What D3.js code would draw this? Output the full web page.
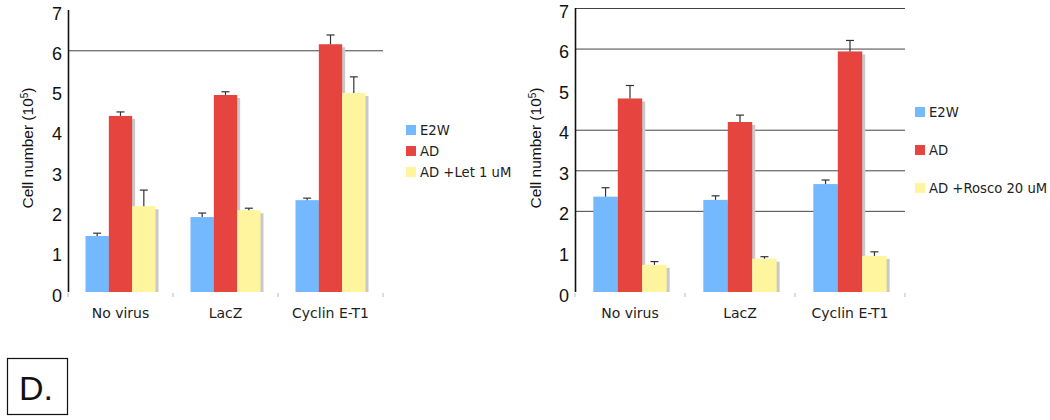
<!DOCTYPE html>
<html><head><meta charset="utf-8">
<script src="https://cdn.jsdelivr.net/npm/d3@7"></script>
<style>body{margin:0;background:#fff}svg{display:block}</style>
</head><body>
<svg id="c" width="1050" height="420"></svg>
<script>
// ---- data ----
const categories = ["No virus", "LacZ", "Cyclin E-T1"];
const yTicks = [0, 1, 2, 3, 4, 5, 6, 7];

const leftSeries = ["E2W", "AD", "AD +Let 1 uM"];
const leftE2W = [1.39, 1.86, 2.28];
const leftAD = [4.37, 4.89, 6.15];
const leftLet = [2.13, 2.03, 4.94];
const leftE2WErr = [0.07, 0.10, 0.05];
const leftADErr = [0.10, 0.08, 0.23];
const leftLetErr = [0.40, 0.05, 0.40];
const leftGrid = [6];

const rightSeries = ["E2W", "AD", "AD +Rosco 20 uM"];
const rightE2W = [2.35, 2.27, 2.66];
const rightAD = [4.77, 4.19, 5.93];
const rightRosco = [0.67, 0.82, 0.89];
const rightE2WErr = [0.22, 0.10, 0.10];
const rightADErr = [0.32, 0.17, 0.27];
const rightRoscoErr = [0.08, 0.05, 0.10];
const rightGrid = [2, 3, 4, 6, 7];

const colors = ["#74b9fd", "#e5443f", "#fff59f"];

const svg = d3.select("#c");

function panel(opt) {
  const y = d3.scaleLinear().domain([0, 7]).range([opt.y0, opt.y1]);
  const x0 = d3.scaleBand().domain(categories).range([opt.x0, opt.x1]).padding(0);
  const bw = x0.bandwidth();
  const x1 = d3.scaleBand().domain(opt.series).range([bw / 6, bw * 5 / 6]).padding(0);
  const g = svg.append("g");

  // gridlines
  g.selectAll(".grid").data(opt.grid).enter().append("line")
    .attr("x1", opt.x0).attr("x2", opt.x1)
    .attr("y1", d => y(d) + 0.5).attr("y2", d => y(d) + 0.5)
    .attr("stroke", "#444").attr("stroke-width", 1);

  // bottom category tick marks
  g.selectAll(".ct").data(d3.range(categories.length + 1)).enter().append("line")
    .attr("x1", i => opt.x0 + i * bw).attr("x2", i => opt.x0 + i * bw)
    .attr("y1", opt.y0 + 1).attr("y2", opt.y0 + 5)
    .attr("stroke", "#bbb").attr("stroke-width", 1);

  const rows = [];
  categories.forEach((c, i) => {
    opt.series.forEach((s, j) => {
      rows.push({c, s, j, v: opt.values[j][i], e: opt.errors[j][i]});
    });
  });

  // shadows
  g.selectAll(".sh").data(rows).enter().append("rect")
    .attr("x", d => x0(d.c) + x1(d.s) + 3)
    .attr("y", d => y(d.v) + 3)
    .attr("width", x1.bandwidth())
    .attr("height", d => opt.y0 - y(d.v) - 3)
    .attr("fill", "#c9c9c9");

  const bars = g.selectAll(".bar").data(rows).enter().append("g");
  bars.append("rect")
    .attr("x", d => x0(d.c) + x1(d.s))
    .attr("y", d => y(d.v))
    .attr("width", x1.bandwidth())
    .attr("height", d => opt.y0 - y(d.v))
    .attr("fill", d => colors[d.j]);
  // error bars
  bars.append("line")
    .attr("x1", d => x0(d.c) + x1(d.s) + x1.bandwidth() / 2)
    .attr("x2", d => x0(d.c) + x1(d.s) + x1.bandwidth() / 2)
    .attr("y1", d => y(d.v)).attr("y2", d => y(d.v + d.e))
    .attr("stroke", "#333").attr("stroke-width", 1.2);
  bars.append("line")
    .attr("x1", d => x0(d.c) + x1(d.s) + x1.bandwidth() / 2 - 4)
    .attr("x2", d => x0(d.c) + x1(d.s) + x1.bandwidth() / 2 + 4)
    .attr("y1", d => y(d.v + d.e)).attr("y2", d => y(d.v + d.e))
    .attr("stroke", "#333").attr("stroke-width", 1.2);

  // y axis
  const ax = g.append("g").attr("transform", `translate(${opt.x0},0)`)
    .call(d3.axisLeft(y).tickValues(yTicks).tickSize(0).tickPadding(6).tickFormat(d3.format("d")));
  ax.select(".domain").attr("d", `M0.5,${opt.y1}V${opt.y0}`).attr("stroke", "#111").attr("stroke-width", 1.6);
  ax.selectAll("text").attr("font-family", "Liberation Sans, Arial, sans-serif")
    .attr("font-size", 18).attr("fill", "#111").attr("dy", "0.5em");

  // category labels
  g.selectAll(".cl").data(categories).enter().append("text")
    .attr("x", d => x0(d) + bw / 2).attr("y", opt.y0 + 26)
    .attr("text-anchor", "middle")
    .attr("font-family", "DejaVu Sans, Verdana, sans-serif").attr("font-size", 14)
    .attr("fill", "#222").text(d => d);

  // y title
  const t = g.append("text")
    .attr("transform", `translate(${opt.titleX},${opt.titleY}) rotate(-90)`)
    .attr("text-anchor", "middle")
    .attr("font-family", "Liberation Sans, Arial, sans-serif").attr("font-size", 15.5)
    .attr("fill", "#111");
  t.append("tspan").text("Cell number (10");
  t.append("tspan").attr("baseline-shift", "super").attr("font-size", 10).text("5");
  t.append("tspan").text(")");

  // legend
  const lg = g.selectAll(".lg").data(opt.series).enter().append("g")
    .attr("transform", (d, i) => `translate(${opt.legX},${opt.legY + i * opt.legStep})`);
  lg.append("rect").attr("x", 0).attr("y", -5).attr("width", 10).attr("height", 10)
    .attr("fill", (d, i) => colors[i]);
  lg.append("text").attr("x", 14).attr("y", 0).attr("dy", "0.35em")
    .attr("font-family", "DejaVu Sans, Verdana, sans-serif").attr("font-size", 13.2)
    .attr("fill", "#222").text(d => d);
}

panel({
  x0: 68, x1: 383, y0: 292, y1: 10,
  series: leftSeries,
  values: [leftE2W, leftAD, leftLet],
  errors: [leftE2WErr, leftADErr, leftLetErr],
  grid: leftGrid,
  titleX: 33, titleY: 148,
  legX: 406, legY: 130, legStep: 21
});

panel({
  x0: 575, x1: 905, y0: 292, y1: 8,
  series: rightSeries,
  values: [rightE2W, rightAD, rightRosco],
  errors: [rightE2WErr, rightADErr, rightRoscoErr],
  grid: rightGrid,
  titleX: 541, titleY: 148,
  legX: 915, legY: 112, legStep: 38
});

// panel label
svg.append("rect").attr("x", 7.5).attr("y", 358.5).attr("width", 60).attr("height", 56)
  .attr("fill", "none").attr("stroke", "#111").attr("stroke-width", 1.2);
svg.append("text").attr("x", 19).attr("y", 400)
  .attr("font-family", "Liberation Sans, Arial, sans-serif").attr("font-size", 34)
  .attr("fill", "#111").text("D.");
</script>
</body></html>
